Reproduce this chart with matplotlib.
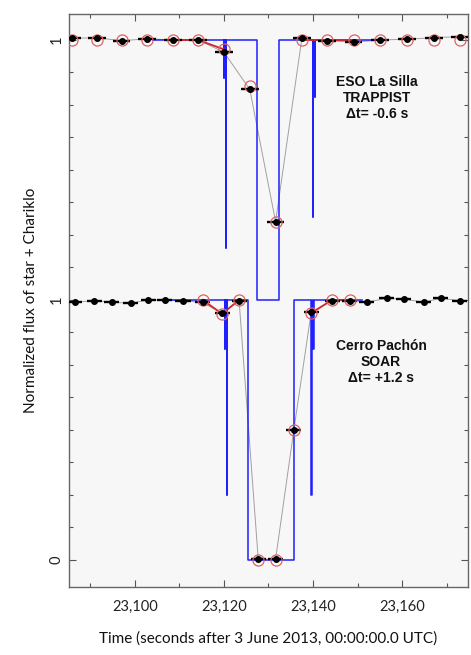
import numpy as np
import matplotlib
matplotlib.use('Agg')
import matplotlib.pyplot as plt
from matplotlib.ticker import MultipleLocator, FixedLocator, FixedFormatter

# === data (flux not offset; top curve is shifted by +1)

# ESO La Silla / TRAPPIST
top_t = [23085.8, 23091.4, 23097.0, 23102.8, 23108.6, 23114.2, 23120.0, 23125.8,
         23131.6, 23137.5, 23143.1, 23149.1, 23155.1, 23161.1, 23167.1, 23173.0]
top_flux = [1.006, 1.009, 0.997, 1.005, 1.000, 1.000, 0.953, 0.810,
            0.301, 1.006, 0.997, 0.992, 1.000, 1.003, 1.009, 1.013]
top_synth = [1.0, 1.0, 1.0, 1.0, 1.0, 1.0, 0.964, 0.824,
             0.301, 1.0, 1.0, 1.0, 1.0, 1.0, 1.0, 1.0]
top_red_idx = [[4, 5, 6], [9, 10, 11]]
top_exp = 2.0

# Cerro Pachon / SOAR
bot_t = [23086.5, 23090.9, 23094.8, 23099.1, 23103.0, 23106.7, 23110.8, 23115.2,
         23119.6, 23123.4, 23127.7, 23131.6, 23135.7, 23139.6, 23144.3, 23148.2,
         23152.1, 23156.6, 23160.4, 23164.9, 23168.7, 23173.0]
bot_flux = [0.991, 0.997, 0.991, 0.987, 1.000, 1.000, 0.997, 0.990,
            0.948, 0.997, 0.002, 0.002, 0.500, 0.953, 0.997, 0.997,
            0.991, 1.006, 1.003, 0.991, 1.006, 0.997]
bot_synth_idx = [7, 8, 9, 10, 11, 12, 13, 14, 15]
bot_synth = [1.0, 0.946, 1.0, 0.0, 0.0, 0.5, 0.949, 1.0, 1.0]
bot_red_idx = [[7, 8, 9], [13, 14, 15]]
bot_exp = 1.7

# square-well models: flat range, body ingress/egress, ring times and depths
top_model = dict(start=23104.1, end=23154.3, body=(23127.5, 23132.4),
                 ring_t=(23120.4, 23139.9), c1r=(0.20, 0.32), c2r=(0.854, 0.78))
bot_model = dict(start=23105.2, end=23150.9, body=(23125.5, 23135.8),
                 ring_t=(23120.6, 23139.6), c1r=(0.25, 0.25), c2r=(0.81, 0.81))

offsets = [1.0, 0.0]
labels = ['ESO La Silla\nTRAPPIST\n\u0394t= -0.6 s',
          'Cerro Pach\u00f3n\nSOAR\n\u0394t= +1.2 s']
label_x = [23154.4, 23155.3]
label_y = [1.866, 0.85]


def model_steps(m):
    # build a step curve: rings = two narrow dips (C2R shallow, C1R deep)
    w = 0.1
    gap = 0.45
    dips = []
    ti, te = m['ring_t']
    dips.append((ti - gap, ti - gap + w, m['c2r'][0]))
    dips.append((ti, ti + w, m['c1r'][0]))
    dips.append((m['body'][0], m['body'][1], 0.0))
    dips.append((te, te + w, m['c1r'][1]))
    dips.append((te + gap, te + gap + w, m['c2r'][1]))
    t = [m['start']]
    f = [1.0]
    for a, b, d in dips:
        t += [a, a, b, b]
        f += [1.0, d, d, 1.0]
    t.append(m['end'])
    f.append(1.0)
    return np.array(t), np.array(f)


fig = plt.figure(figsize=(4.71, 6.55), dpi=100, facecolor='white')
ax = fig.add_axes([0.1465, 0.1038, 0.847, 0.8748])
ax.set_facecolor('#f7f7f7')

datasets = [
    (top_t, top_flux, list(range(len(top_t))), top_synth, top_red_idx, top_exp, top_model),
    (bot_t, bot_flux, bot_synth_idx, bot_synth, bot_red_idx, bot_exp, bot_model),
]

for (t, f, sidx, synth, red_idx, exp, model), off in zip(datasets, offsets):
    t = np.array(t)
    f = np.array(f) + off
    synth = np.array(synth) + off
    st = t[sidx]
    # thin gray line through the data
    ax.plot(t, f, color='#a0a0a0', lw=0.7, zorder=2)
    # blue square-well model
    mt, mf = model_steps(model)
    ax.plot(mt, mf + off, color='#2020ff', lw=1.1, zorder=3)
    # red synthetic curve near the event
    for idx in red_idx:
        ax.plot(t[idx], synth[[sidx.index(i) for i in idx]], color='#d02828',
                lw=1.3, zorder=4)
    # exposure bars
    ax.errorbar(t, f, xerr=exp, fmt='none', ecolor='black', elinewidth=1.7,
                capsize=0, zorder=5)
    ax.plot(st, synth, 'o', mfc='none', mec='#e06060', mew=0.9, ms=8, zorder=6)
    ax.plot(t, f, 'o', color='black', ms=4.0, zorder=7)

for lab, x, y in zip(labels, label_x, label_y):
    ax.text(x, y, lab, ha='center', va='top', fontsize=10,
            fontweight='bold', family='Liberation Sans', linespacing=1.2,
            color='#111111')

ax.set_xlim(23085.2, 23174.8)
ax.set_ylim(-0.105, 2.1)

ax.xaxis.set_major_locator(MultipleLocator(20))
ax.xaxis.set_minor_locator(MultipleLocator(10))
ax.xaxis.set_major_formatter(plt.FuncFormatter(lambda v, p: '{:,.0f}'.format(v)))
ax.yaxis.set_major_locator(FixedLocator([0, 1, 2]))
ax.yaxis.set_major_formatter(FixedFormatter(['0', '1', '1']))
ax.yaxis.set_minor_locator(MultipleLocator(0.125))

ax.tick_params(which='both', direction='in', top=True, right=True,
               color='#555555', width=0.8)
ax.tick_params(which='major', length=5)
ax.tick_params(which='minor', length=3)
ax.tick_params(axis='x', labelsize=10.5, pad=9, labelcolor='#222222')
ax.tick_params(axis='y', labelsize=10.5, pad=4, labelcolor='#222222',
               labelrotation=90)
for lbl in ax.get_xticklabels() + ax.get_yticklabels():
    lbl.set_family('Lato')
for lbl in ax.get_yticklabels():
    lbl.set_va('center')
for s in ax.spines.values():
    s.set_color('#666666')
    s.set_linewidth(1.0)

ax.set_xlabel('Time (seconds after 3 June 2013, 00:00:00.0 UTC)',
              family='Lato', fontsize=11, labelpad=13, color='#111111')
ax.set_ylabel('Normalized flux of star + Chariklo', family='Lato',
              fontsize=11, labelpad=8, color='#111111')

fig.savefig('out.png', dpi=100, facecolor='white')
